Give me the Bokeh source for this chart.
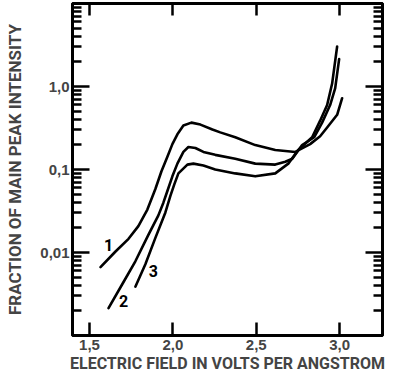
from bokeh.plotting import figure
from bokeh.models import FixedTicker, LinearAxis, LogAxis
from bokeh.core.properties import value
from bokeh.embed import file_html
from bokeh.resources import INLINE

# ---- data ----
x_ticks = [1.5, 2.0, 2.5, 3.0]
x_tick_labels = ["1,5", "2,0", "2,5", "3,0"]
y_ticks = [0.01, 0.1, 1.0]
y_tick_labels = ["0,01", "0,1", "1,0"]

curve1_x = [1.566, 1.656, 1.734, 1.793, 1.847, 1.895, 1.931, 1.967, 1.997, 2.027,
            2.063, 2.111, 2.165, 2.237, 2.284, 2.374, 2.494, 2.614, 2.734, 2.823,
            2.883, 2.925, 2.985, 3.015]
curve1_y = [0.00667, 0.01028, 0.01462, 0.02078, 0.03294, 0.05817, 0.0947, 0.1422, 0.2023, 0.2652,
            0.3383, 0.3670, 0.3477, 0.3037, 0.2800, 0.2445, 0.1968, 0.1719, 0.1628, 0.2023,
            0.2512, 0.3206, 0.4559, 0.7226]

curve2_x = [1.614, 1.698, 1.775, 1.853, 1.913, 1.943, 1.967, 1.997, 2.027, 2.063,
            2.093, 2.135, 2.183, 2.254, 2.374, 2.494, 2.614, 2.674, 2.716, 2.775,
            2.847, 2.895, 2.943, 2.973, 2.997]
curve2_y = [0.002135, 0.004203, 0.007836, 0.01629, 0.02800, 0.03981, 0.05510, 0.08272, 0.1177, 0.1628,
            0.1865, 0.1815, 0.1628, 0.1501, 0.1347, 0.1177, 0.1145, 0.1242, 0.1347, 0.1968,
            0.2445, 0.3670, 0.5977, 0.9473, 2.135]

curve3_x = [1.775, 1.835, 1.895, 1.955, 1.985, 2.009, 2.033, 2.087, 2.123, 2.183,
            2.254, 2.374, 2.494, 2.614, 2.692, 2.752, 2.835, 2.883, 2.925, 2.955, 2.985]
curve3_y = [0.003875, 0.007225, 0.01501, 0.03037, 0.04814, 0.06662, 0.08972, 0.1145, 0.1177, 0.1115,
            0.1000, 0.08972, 0.08272, 0.08972, 0.1177, 0.1719, 0.2445, 0.3875, 0.5977, 1.085, 3.037]

curve_names = ["1", "2", "3"]
label_x = [1.614, 1.704, 1.883]
label_y = [0.0124, 0.00258, 0.00598]

x_title = "ELECTRIC FIELD IN VOLTS PER ANGSTROM"
y_title = "FRACTION OF MAIN PEAK INTENSITY"

TITLE_FONT = "Roboto"
TICK_FONT = "Liberation Sans"

p = figure(x_range=(1.398, 3.257), y_range=(0.001, 10), y_axis_type="log",
           width=385, height=375,
           min_border_left=72, min_border_right=3, min_border_top=3, min_border_bottom=36,
           output_backend="svg", toolbar_location=None)
p.background_fill_color = "white"
p.border_fill_color = "white"
p.outline_line_color = "black"
p.outline_line_width = 3
p.xgrid.grid_line_color = None
p.ygrid.grid_line_color = None

minor_y = [m * 10.0 ** k for k in range(-3, 1) for m in range(2, 10)]

# bottom axis
xa = p.xaxis[0]
xa.ticker = FixedTicker(ticks=x_ticks)
xa.major_label_overrides = dict(zip(x_ticks, x_tick_labels))
xa.axis_label = x_title
xa.axis_line_width = 3
xa.major_tick_in = 13
xa.major_tick_out = 0
xa.major_tick_line_width = 2.5
xa.minor_tick_in = 0
xa.minor_tick_out = 0
xa.major_label_text_font = TICK_FONT
xa.major_label_text_font_style = "bold"
xa.major_label_text_font_size = "15px"
xa.major_label_standoff = 4
xa.axis_label_text_font = TITLE_FONT
xa.axis_label_text_font_style = "bold"
xa.axis_label_text_font_size = "16px"
xa.axis_label_standoff = 1

# left axis
ya = p.yaxis[0]
ya.ticker = FixedTicker(ticks=y_ticks, minor_ticks=minor_y)
ya.major_label_overrides = dict(zip(y_ticks, y_tick_labels))
ya.axis_label = y_title
ya.axis_line_width = 3
ya.major_tick_in = 17
ya.major_tick_out = 0
ya.major_tick_line_width = 2.5
ya.minor_tick_in = 9
ya.minor_tick_out = 0
ya.minor_tick_line_width = 2.5
ya.minor_tick_line_color = "black"
ya.major_label_text_font = TICK_FONT
ya.major_label_text_font_style = "bold"
ya.major_label_text_font_size = "15px"
ya.major_label_standoff = 3
ya.axis_label_text_font = TITLE_FONT
ya.axis_label_text_font_style = "bold"
ya.axis_label_text_font_size = "17px"
ya.axis_label_standoff = 12

# top axis (ticks only)
top = LinearAxis(ticker=FixedTicker(ticks=x_ticks), axis_line_width=3,
                 major_tick_in=12, major_tick_out=0, major_tick_line_width=2.5,
                 minor_tick_in=0, minor_tick_out=0,
                 major_label_overrides={t: "" for t in x_ticks},
                 major_label_text_font_size="2px", major_label_text_color=None,
                 major_label_standoff=0)
p.add_layout(top, "above")

# right axis (ticks only)
right = LogAxis(ticker=FixedTicker(ticks=y_ticks, minor_ticks=minor_y), axis_line_width=3,
                major_tick_in=17, major_tick_out=0, major_tick_line_width=2.5,
                minor_tick_in=9, minor_tick_out=0, minor_tick_line_width=2.5,
                major_label_overrides={t: "" for t in y_ticks},
                major_label_text_font_size="2px", major_label_text_color=None,
                major_label_standoff=0)
p.add_layout(right, "right")

for cx, cy in [(curve1_x, curve1_y), (curve2_x, curve2_y), (curve3_x, curve3_y)]:
    p.line(cx, cy, line_color="black", line_width=2.6, line_join="round", line_cap="round")

p.text(x=label_x, y=label_y, text=curve_names, text_font=value(TITLE_FONT),
       text_font_style="bold", text_font_size="16px", text_align="center",
       text_baseline="middle", text_color="black")

open("out.html", "w").write(file_html(p, INLINE))
